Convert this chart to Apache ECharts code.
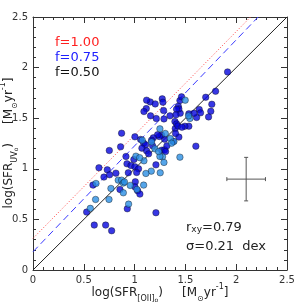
<!DOCTYPE html>
<html><head><meta charset="utf-8">
<script src="https://cdn.jsdelivr.net/npm/echarts@6/dist/echarts.min.js"></script>
<style>html,body{margin:0;padding:0;background:#fff}#c{width:303px;height:303px}</style>
</head><body><div id="c"></div>
<script>
// Dark blue points [x, y]
const darkPts = [
[1.915,1.957],[1.797,1.766],[1.70,1.707],[1.76,1.638],[1.75,1.569],[1.728,1.513],[1.636,1.586],[1.649,1.553],
[1.61,1.507],[1.603,1.224],[1.584,1.549],[1.534,1.543],[1.534,1.421],[1.495,1.421],[1.449,1.549],[1.446,1.674],
[1.462,1.711],[1.43,1.618],[1.436,1.592],[1.413,1.589],[1.407,1.533],[1.397,1.467],[1.40,1.398],[1.413,1.444],
[1.426,1.424],[1.466,1.411],[1.436,1.313],[1.403,1.349],[1.348,1.523],[1.295,1.293],[1.285,1.576],[1.289,1.493],
[1.272,1.691],[1.279,1.658],[1.213,1.497],[1.266,1.332],[1.243,1.319],[1.226,1.336],[1.184,1.306],[1.167,1.283],
[1.154,1.661],[1.203,1.641],[1.157,1.523],[1.177,1.227],[1.266,1.184],[1.295,1.188],[1.305,1.171],[1.318,1.227],
[1.21,1.039],[1.21,0.566],[1.118,1.678],[1.115,1.595],[1.092,1.566],[1.089,1.253],[1.108,1.237],[1.059,1.29],
[1.072,1.204],[1.118,1.178],[1.138,1.148],[1.003,1.316],[0.993,1.092],[0.925,1.049],[0.964,1.033],[1.003,1.02],
[1.039,1.0],[1.02,0.964],[0.938,0.961],[0.915,1.122],[0.862,1.217],[0.872,1.352],[0.751,1.181],[0.731,0.99],
[0.698,0.918],[0.754,0.941],[0.649,1.01],[0.816,0.957],[1.007,0.872],[1.003,0.822],[1.03,0.783],[1.052,0.75],
[0.856,0.796],[0.59,0.839],[0.528,0.572],[0.928,0.605],[0.603,0.444],[0.715,0.444],[0.774,0.388],[1.38,1.27]
];
// Light blue points [x, y]
const lightPts = [
[1.498,1.678],[1.544,1.497],[1.531,1.523],[1.387,1.27],[1.446,1.115],[1.351,1.299],[1.302,1.349],[1.249,1.395],
[1.167,1.266],[1.2,1.197],[1.275,1.118],[1.249,1.122],[1.236,1.171],[1.289,1.063],[1.252,0.961],[1.164,0.977],
[1.111,0.954],[1.089,0.839],[1.075,1.283],[1.092,1.079],[1.013,1.125],[0.839,0.888],[0.872,0.888],[0.889,0.859],
[0.957,0.836],[1.023,0.796],[0.889,0.763],[0.767,0.806],[0.748,0.697],[0.616,0.697],[0.62,0.855],[0.564,0.609],
[0.941,0.651],[1.364,1.253],[1.05,1.11],[0.90,0.87]
];
// Reference lines
const lineF050 = [[0,0],[2.5,2.5]];
const lineF075 = [[0,0.18],[2.216,2.5]];
const lineF100 = [[0,0.3125],[2.141,2.5]];
// Typical error bar: [x, y, xerr, yerr]
const errBar = [[2.098,0.898,0.19,0.215]];
const xTicks = [0,0.5,1,1.5,2,2.5];
const yTicks = [0,0.5,1,1.5,2,2.5];

const fontSans = 'DejaVu Sans';
const labelFmt = v => (v===0?'0':String(v));
const chart = echarts.init(document.getElementById('c'), null, {renderer:'canvas'});
const tickStyle = {show:true, inside:true, length:6, lineStyle:{color:'#333',width:1}};
const minorStyle = {show:true, splitNumber:5, length:3, lineStyle:{color:'#333',width:1}};
const axBase = (pos, showLabel) => ({
  type:'value', min:0, max:2.5, interval:0.5, position:pos,
  axisLine:{show:true, onZero:false, lineStyle:{color:'#333',width:1}},
  axisTick: tickStyle, minorTick: minorStyle, splitLine:{show:false},
  axisLabel:{show:showLabel, color:'#333', fontFamily:fontSans, fontSize:10, margin:5, formatter: labelFmt}
});
const subRich = {
  n:{fontFamily:fontSans,fontSize:12,fill:'#222',lineHeight:20,verticalAlign:'middle'},
  s:{fontFamily:fontSans,fontSize:8,fill:'#222',lineHeight:12,verticalAlign:'bottom'},
  ss:{fontFamily:fontSans,fontSize:6,fill:'#222',lineHeight:6,verticalAlign:'bottom'},
  p:{fontFamily:fontSans,fontSize:8,fill:'#222',lineHeight:12,verticalAlign:'top'}
};
const xName = '{n|log(SFR}{s|[OII]}{ss|o}{n|)     [M}{s|⊙}{n|yr}{p|-1}{n|]}';
const yName = '{n|log(SFR}{s|UV}{ss|o}{n|)     [M}{s|⊙}{n|yr}{p|-1}{n|]}';

chart.setOption({
  animation:false,
  backgroundColor:'#fff',
  grid:{left:33, top:17, right:16, bottom:33, containLabel:false, outerBoundsMode:'none'},
  xAxis:[axBase('bottom', true), axBase('top', false)],
  yAxis:[axBase('left', true), axBase('right', false)],
  series:[
    {type:'line', data:lineF050, showSymbol:false, lineStyle:{color:'#222',width:1}, z:2},
    {type:'line', data:lineF075, showSymbol:false, lineStyle:{color:'#3a3aff',width:1,type:[7,4]}, z:2},
    {type:'line', data:lineF100, showSymbol:false, lineStyle:{color:'#ff4040',width:1,type:[1,2]}, z:2},
    {type:'scatter', data:darkPts, symbolSize:6.5, itemStyle:{color:'#0505dd',borderColor:'#111',borderWidth:0.5}, z:4},
    {type:'scatter', data:lightPts, symbolSize:6.5, itemStyle:{color:'#2a8fe4',borderColor:'#111',borderWidth:0.5}, z:5},
    {type:'custom', data:errBar, z:3,
     renderItem:(params, api)=>{
       const x=api.value(0), y=api.value(1), dx=api.value(2), dy=api.value(3);
       const l=api.coord([x-dx,y]), r=api.coord([x+dx,y]);
       const t=api.coord([x,y+dy]), b=api.coord([x,y-dy]);
       const st={stroke:'#555',lineWidth:1};
       const c=2;
       return {type:'group', children:[
         {type:'line', shape:{x1:l[0],y1:l[1],x2:r[0],y2:r[1]}, style:st},
         {type:'line', shape:{x1:t[0],y1:t[1],x2:b[0],y2:b[1]}, style:st},
         {type:'line', shape:{x1:l[0],y1:l[1]-c,x2:l[0],y2:l[1]+c}, style:st},
         {type:'line', shape:{x1:r[0],y1:r[1]-c,x2:r[0],y2:r[1]+c}, style:st},
         {type:'line', shape:{x1:t[0]-c,y1:t[1],x2:t[0]+c,y2:t[1]}, style:st},
         {type:'line', shape:{x1:b[0]-c,y1:b[1],x2:b[0]+c,y2:b[1]}, style:st}
       ]};
     }}
  ],
  graphic:[
    {type:'text', x:160, y:293, style:{text:xName, rich:subRich, align:'center', verticalAlign:'middle'}},
    {type:'text', x:9, y:143, rotation:Math.PI/2, style:{text:yName, rich:subRich, align:'center', verticalAlign:'middle'}},
    {type:'text', left:55, top:36, style:{text:'f=1.00', fill:'#ff2020', font:'13px "DejaVu Sans"'}},
    {type:'text', left:55, top:51, style:{text:'f=0.75', fill:'#2020ff', font:'13px "DejaVu Sans"'}},
    {type:'text', left:55, top:66, style:{text:'f=0.50', fill:'#111', font:'13px "DejaVu Sans"'}},
    {type:'text', left:186, top:221, style:{text:'{a|r}{b|xy}{a|=0.79}', rich:{
      a:{fontFamily:fontSans,fontSize:13,fill:'#222'},
      b:{fontFamily:fontSans,fontSize:9,fill:'#222',padding:[0,0,-5,0]}}}},
    {type:'text', left:186, top:240, style:{text:'σ=0.21  dex', fill:'#222', font:'13px "DejaVu Sans"'}}
  ]
});
</script></body></html>
